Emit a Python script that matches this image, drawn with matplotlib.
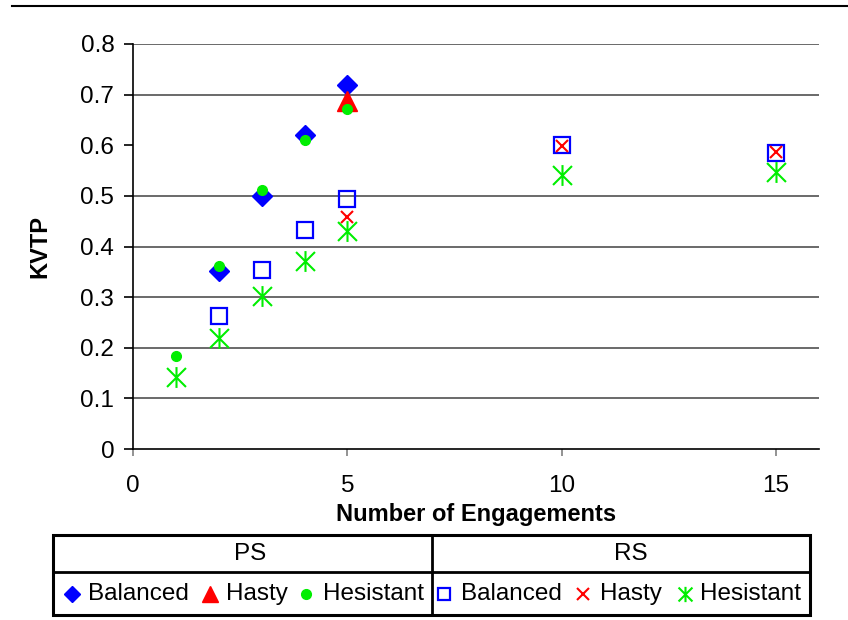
import numpy as np
import matplotlib
matplotlib.use('Agg')
import matplotlib.pyplot as plt
from matplotlib.path import Path
from matplotlib.patches import Rectangle

plt.rcParams['font.family'] = ['Liberation Sans', 'DejaVu Sans']

# 数据
ps_bal_x = [2, 3, 4, 5]
ps_bal_y = [0.352, 0.499, 0.620, 0.720]
ps_hasty_x = [5]
ps_hasty_y = [0.687]
ps_hes_x = [1, 2, 3, 4, 5]
ps_hes_y = [0.183, 0.362, 0.512, 0.611, 0.671]

rs_bal_x = [2, 3, 4, 5, 10, 15]
rs_bal_y = [0.262, 0.354, 0.433, 0.494, 0.601, 0.584]
rs_hasty_x = [5, 10, 15]
rs_hasty_y = [0.459, 0.599, 0.586]
rs_hes_x = [1, 2, 3, 4, 5, 10, 15]
rs_hes_y = [0.143, 0.220, 0.303, 0.371, 0.430, 0.541, 0.548]

y_ticks = [0, 0.1, 0.2, 0.3, 0.4, 0.5, 0.6, 0.7, 0.8]
y_tick_labels = ['0', '0.1', '0.2', '0.3', '0.4', '0.5', '0.6', '0.7', '0.8']
x_ticks = [0, 5, 10, 15]
grid_levels = [0.1, 0.2, 0.3, 0.4, 0.5, 0.7, 0.8]

BLUE = '#0000FF'
RED = '#FF0000'
GREEN = '#00EE00'

# 星形标记: X 加竖线
star = Path([(-1, -1), (1, 1), (-1, 1), (1, -1), (0, -1.1), (0, 1.1)],
            [Path.MOVETO, Path.LINETO] * 3)

W, H = 848, 620
fig = plt.figure(figsize=(W / 100, H / 100), dpi=100)
ax = fig.add_axes([133 / W, 1 - 449 / H, (819 - 133) / W, (449 - 44) / H])

for g in grid_levels:
    ax.axhline(g, color='#505050', lw=1.2, zorder=1)

ax.plot(ps_bal_x, ps_bal_y, ls='none', marker='D', ms=10.5, color=BLUE, zorder=3)
ax.plot(ps_hasty_x, ps_hasty_y, ls='none', marker='^', ms=14, color=RED, zorder=3)
ax.plot(ps_hes_x, ps_hes_y, ls='none', marker='o', ms=7, color=GREEN, zorder=3)
ax.plot(rs_bal_x, rs_bal_y, ls='none', marker='s', ms=12, mfc='none', mec=BLUE, mew=1.6, zorder=3)
ax.plot(rs_hasty_x, rs_hasty_y, ls='none', marker='x', ms=9, color=RED, mew=1.5, zorder=3)
ax.plot(rs_hes_x, rs_hes_y, ls='none', marker=star, ms=15, mfc='none', mec=GREEN, mew=1.5, zorder=3)

ax.set_xlim(0, 16)
ax.set_ylim(0, 0.8)
ax.set_yticks(y_ticks)
ax.set_yticklabels(y_tick_labels)
ax.set_xticks(x_ticks)
for s in ['top', 'right']:
    ax.spines[s].set_visible(False)
ax.spines['left'].set_linewidth(1.2)
ax.spines['bottom'].set_linewidth(1.2)
ax.tick_params(axis='y', direction='out', length=6.5, width=1.2, labelsize=17.5, pad=7)
ax.tick_params(axis='x', direction='out', length=5, width=1.2, color='#808080', labelsize=17.5, pad=14)
ax.set_xlabel('Number of Engagements', fontsize=17, fontweight='bold', labelpad=4)
ax.set_ylabel('KVTP', fontsize=17, fontweight='bold', labelpad=21)

# 图例表格, 像素坐标
lg = fig.add_axes([0, 0, 1, 1], facecolor='none')
lg.set_xlim(0, W)
lg.set_ylim(H, 0)
lg.axis('off')
lg.plot([12, W], [6, 6], color='black', lw=1.5)
lg.add_patch(Rectangle((53, 535), 757, 80, fill=False, ec='black', lw=2.2))
lg.plot([53, 810], [572, 572], color='black', lw=2)
lg.plot([432, 432], [535, 615], color='black', lw=2)
lg.text(250, 554, 'PS', fontsize=17.5, ha='center', va='center')
lg.text(631, 554, 'RS', fontsize=17.5, ha='center', va='center')

row_y = 594
lg.plot([72], [row_y], ls='none', marker='D', ms=8.5, color=BLUE)
lg.text(88, row_y, 'Balanced', fontsize=17.5, ha='left', va='center')
lg.plot([210], [row_y], ls='none', marker='^', ms=11, color=RED)
lg.text(226, row_y, 'Hasty', fontsize=17.5, ha='left', va='center')
lg.plot([306], [row_y], ls='none', marker='o', ms=7, color=GREEN)
lg.text(323, row_y, 'Hesistant', fontsize=17.5, ha='left', va='center')
lg.plot([444], [row_y], ls='none', marker='s', ms=9, mfc='none', mec=BLUE, mew=1.6)
lg.text(461, row_y, 'Balanced', fontsize=17.5, ha='left', va='center')
lg.plot([583], [row_y], ls='none', marker='x', ms=9, color=RED, mew=1.5)
lg.text(600, row_y, 'Hasty', fontsize=17.5, ha='left', va='center')
lg.plot([685], [row_y], ls='none', marker=star, ms=11, mfc='none', mec=GREEN, mew=1.5)
lg.text(700, row_y, 'Hesistant', fontsize=17.5, ha='left', va='center')

fig.savefig('out.png', dpi=100)
